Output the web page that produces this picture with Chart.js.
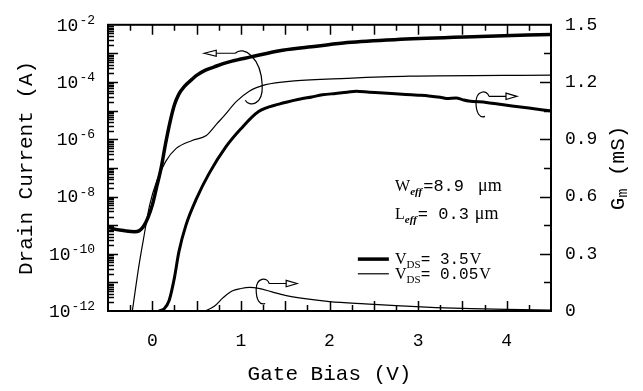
<!DOCTYPE html>
<html><head><meta charset="utf-8">
<script src="https://cdn.jsdelivr.net/npm/chart.js@4/dist/chart.umd.min.js"></script>
<style>html,body{margin:0;padding:0;background:#fff}canvas{display:block}</style>
</head><body>
<canvas id="c" width="643" height="391"></canvas>
<script>
// ---- data ----
const vgThickId = [-0.5,-0.45,-0.3,-0.2,-0.15,-0.1,-0.05,0.0,0.05,0.1,0.15,0.2,0.25,0.3,0.36,0.45,0.5,0.6,0.7,0.8,0.9,1.1,1.47,1.85,2.2,2.8,3.7,4.5];
const idVds35 = [8.9e-10,7.6e-10,6.3e-10,5.9e-10,6.3e-10,8.9e-10,1.8e-9,5.0e-9,2.2e-8,1.0e-7,7.1e-7,4.0e-6,1.6e-5,3.8e-5,6.9e-5,1.26e-4,1.7e-4,2.6e-4,3.4e-4,4.4e-4,5.4e-4,7.4e-4,1.29e-3,1.78e-3,2.4e-3,3.1e-3,3.9e-3,4.6e-3];
const vgThinId = [-0.23,-0.15,-0.1,-0.03,0.05,0.15,0.27,0.45,0.61,0.73,0.81,0.95,1.09,1.28,1.6,2.2,2.9,4.5];
const idVds005 = [7.9e-13,4.0e-11,3.2e-10,5.0e-9,3.5e-8,1.66e-7,4.8e-7,9.1e-7,1.35e-6,3.5e-6,6.6e-6,2.1e-5,4.7e-5,8.1e-5,1.1e-4,1.35e-4,1.6e-4,1.75e-4];
const vgThickGm = [0.08,0.13,0.19,0.25,0.3,0.38,0.5,0.64,0.83,1.0,1.2,1.43,1.66,1.8,1.92,2.07,2.2,2.3,2.45,2.56,2.7,2.86,3.0,3.12,3.25,3.32,3.43,3.5,3.57,3.77,3.9,4.06,4.25,4.49];
const gmVds35 = [0,0.01,0.055,0.175,0.31,0.45,0.59,0.72,0.86,0.955,1.045,1.084,1.11,1.122,1.133,1.14,1.146,1.152,1.147,1.144,1.14,1.135,1.131,1.127,1.12,1.114,1.116,1.108,1.101,1.093,1.085,1.075,1.064,1.049];
const vgThinGm = [0.6,0.7,0.8,0.9,1.0,1.1,1.2,1.35,1.5,1.7,2.0,2.4,2.8,3.2,3.6,4.0,4.5];
const gmVds005 = [0,0.025,0.07,0.105,0.118,0.124,0.119,0.1,0.082,0.066,0.049,0.037,0.027,0.018,0.012,0.008,0.005];

const xTickValues = [0,1,2,3,4];
const leftTickValues = [1e-12,1e-10,1e-8,1e-6,1e-4,1e-2];
const leftTickBases = ['10','10','10','10','10','10'];
const leftTickExponents = ['-12','-10','-8','-6','-4','-2'];
const rightTickValues = [0,0.3,0.6,0.9,1.2,1.5];
const rightTickLabels = ['0','0.3','0.6','0.9','1.2','1.5'];
const seriesLabels = ['3.5V','0.05V'];
const deviceLines = [['W','=8.9','\u03BCm'],['L','= 0.3','\u03BCm']];

const MONO = "'Liberation Mono', 'DejaVu Sans Mono', monospace";
const SERIF = "'Liberation Serif', 'DejaVu Serif', serif";
const pts = (xs, ys) => xs.map((x, i) => ({x, y: ys[i]}));

const deco = {
  id: 'deco',
  afterDatasetsDraw(chart) {
    const {ctx, chartArea: a, scales} = chart;
    const X = v => scales.x.getPixelForValue(v);
    const YL = v => scales.yL.getPixelForValue(v);
    const YR = v => scales.yR.getPixelForValue(v);
    ctx.save();
    ctx.strokeStyle = '#000'; ctx.fillStyle = '#000';
    // inward tick marks
    ctx.lineWidth = 1.5;
    ctx.beginPath();
    for (let k = 1; k < 20; k++) {
      const v = -0.5 + k * 0.25, px = Math.round(X(v)) + 0.5, len = (k % 2 === 0) ? 10 : 6;
      ctx.moveTo(px, a.bottom); ctx.lineTo(px, a.bottom - len);
      ctx.moveTo(px, a.top); ctx.lineTo(px, a.top + len);
    }
    for (let e = -12; e < -2; e++) {
      for (let m = 1; m <= 9; m++) {
        if (e === -12 && m === 1) continue;
        const py = Math.round(YL(m * Math.pow(10, e))) + 0.5, len = m === 1 ? 10 : 6;
        ctx.moveTo(a.left, py); ctx.lineTo(a.left + len, py);
      }
    }
    for (let k = 1; k < 10; k++) {
      const py = Math.round(YR(k * 0.15)) + 0.5, len = (k % 2 === 0) ? 11 : 7;
      ctx.moveTo(a.right, py); ctx.lineTo(a.right - len, py);
    }
    ctx.stroke();
    // frame
    ctx.lineWidth = 2;
    ctx.strokeRect(a.left, a.top, a.right - a.left, a.bottom - a.top);

    // left tick labels: 10 with raised exponent
    ctx.textAlign = 'right';
    leftTickValues.forEach((v, i) => {
      const py = YL(v), xr = a.left - 13;
      ctx.font = '13px ' + MONO; ctx.textBaseline = 'alphabetic';
      const ew = ctx.measureText(leftTickExponents[i]).width;
      ctx.fillText(leftTickExponents[i], xr, py - 1);
      ctx.font = '18px ' + MONO; ctx.textBaseline = 'middle';
      ctx.fillText(leftTickBases[i], xr - ew - 1, py + 1);
    });

    // curl arrows
    ctx.lineWidth = 1.2;
    const head = (tx, ty, dir, L, H) => {
      ctx.beginPath();
      ctx.moveTo(tx, ty); ctx.lineTo(tx - dir * L, ty - H); ctx.lineTo(tx - dir * L, ty + H); ctx.closePath();
      ctx.fillStyle = '#fff'; ctx.fill(); ctx.stroke(); ctx.fillStyle = '#000';
    };
    {
      const px = X(0.936), py = YR(1.351);
      ctx.beginPath();
      ctx.moveTo(px, py); ctx.lineTo(px - 19, py);
      ctx.moveTo(px, py);
      ctx.bezierCurveTo(px + 8, py - 8, px + 26, py + 4, px + 27, py + 32);
      ctx.bezierCurveTo(px + 28, py + 52, px + 14, py + 54, px + 10, py + 47);
      ctx.stroke();
      head(px - 31, py, -1, 12, 3);
    }
    for (const [vx, vg] of [[3.80, 1.125], [1.319, 0.144]]) {
      const px = X(vx), py = YR(vg);
      ctx.beginPath();
      ctx.moveTo(px, py); ctx.lineTo(px + 17, py);
      ctx.moveTo(px, py);
      ctx.bezierCurveTo(px - 2, py - 7, px - 13, py - 6, px - 13, py + 6);
      ctx.bezierCurveTo(px - 13, py + 17, px - 9, py + 22, px - 4, py + 20);
      ctx.stroke();
      head(px + 28, py, 1, 11, 3.2);
    }

    // device text
    ctx.textBaseline = 'alphabetic'; ctx.textAlign = 'left';
    const tx = X(2.74);
    const rich = (x, y, parts) => {
      for (const [t, f, dy, gap] of parts) {
        ctx.font = f; ctx.fillText(t, x, y + (dy || 0));
        x += ctx.measureText(t).width + (gap || 0);
      }
    };
    const baseW = YR(0.63), baseL = YR(0.483);
    rich(tx, baseW, [[deviceLines[0][0], '16px ' + SERIF], ['eff', 'italic bold 11px ' + SERIF, 4, 1], [deviceLines[0][1], '17px ' + MONO, 0, 14], [deviceLines[0][2], '18px ' + SERIF]]);
    rich(tx, baseL, [[deviceLines[1][0], '16px ' + SERIF], ['eff', 'italic bold 11px ' + SERIF, 4, 1], [deviceLines[1][1], '17px ' + MONO, 0, 6], [deviceLines[1][2], '18px ' + SERIF]]);
    // legend
    const lx0 = X(2.32), lx1 = X(2.67);
    const ly = [YR(0.272), YR(0.195)];
    const lw = [3.5, 1.2];
    for (let i = 0; i < 2; i++) {
      ctx.lineWidth = lw[i];
      ctx.beginPath(); ctx.moveTo(lx0, ly[i]); ctx.lineTo(lx1, ly[i]); ctx.stroke();
      rich(tx, ly[i] + 5, [['V', '16px ' + SERIF], ['DS', '11px ' + SERIF, 4], ['= ' + seriesLabels[i].replace('V', ''), '16px ' + MONO, 0, 1], ['V', '16px ' + SERIF]]);
    }

    // right axis title G_m (mS)
    ctx.save();
    ctx.translate(618, (a.top + a.bottom) / 2);
    ctx.rotate(-Math.PI / 2);
    ctx.textBaseline = 'middle';
    const parts = [['G', '21px ' + MONO, 0], ['m', '15px ' + MONO, 5], [' (mS)', '21px ' + MONO, 0]];
    let tot = 0;
    for (const p of parts) { ctx.font = p[1]; tot += ctx.measureText(p[0]).width; }
    let cx = -tot / 2;
    for (const p of parts) { ctx.font = p[1]; ctx.fillText(p[0], cx, p[2]); cx += ctx.measureText(p[0]).width; }
    ctx.restore();
    ctx.restore();
  }
};

const tickFont = {family: MONO, size: 18};
new Chart(document.getElementById('c'), {
  type: 'line',
  data: {
    datasets: [
      {label: 'ID, VDS=3.5V', data: pts(vgThickId, idVds35), yAxisID: 'yL', borderColor: '#000', borderWidth: 3.5, cubicInterpolationMode: 'monotone'},
      {label: 'ID, VDS=0.05V', data: pts(vgThinId, idVds005), yAxisID: 'yL', borderColor: '#000', borderWidth: 1.2, cubicInterpolationMode: 'monotone'},
      {label: 'Gm, VDS=3.5V', data: pts(vgThickGm, gmVds35), yAxisID: 'yR', borderColor: '#000', borderWidth: 3, cubicInterpolationMode: 'monotone'},
      {label: 'Gm, VDS=0.05V', data: pts(vgThinGm, gmVds005), yAxisID: 'yR', borderColor: '#000', borderWidth: 1.2, cubicInterpolationMode: 'monotone'}
    ]
  },
  options: {
    responsive: false, animation: false, devicePixelRatio: 1,
    layout: {padding: {top: 19, left: 0, right: 0, bottom: 0}},
    elements: {point: {radius: 0}, line: {borderCapStyle: 'round', borderJoinStyle: 'round'}},
    plugins: {legend: {display: false}, tooltip: {enabled: false}},
    scales: {
      x: {
        type: 'linear', position: 'bottom', min: -0.5, max: 4.5,
        grid: {display: false, drawTicks: false}, border: {display: false},
        afterBuildTicks: s => { s.ticks = xTickValues.map(v => ({value: v})); },
        afterFit: s => { s.height = 80; },
        ticks: {font: tickFont, color: '#000', padding: 19, maxRotation: 0, autoSkip: false, callback: v => String(v)},
        title: {display: true, text: 'Gate Bias (V)', color: '#000', font: {family: MONO, size: 21}, padding: {top: 0, bottom: 4}}
      },
      yL: {
        type: 'logarithmic', position: 'left', min: 1e-12, max: 1e-2,
        grid: {display: false, drawTicks: false}, border: {display: false},
        afterBuildTicks: s => { s.ticks = leftTickValues.map(v => ({value: v})); },
        afterFit: s => { s.width = 108; },
        ticks: {display: false},
        title: {display: true, text: 'Drain Current (A)', color: '#000', font: {family: MONO, size: 21}, padding: {top: 14, bottom: 0}}
      },
      yR: {
        type: 'linear', position: 'right', min: 0, max: 1.5,
        grid: {display: false, drawTicks: false}, border: {display: false},
        afterBuildTicks: s => { s.ticks = rightTickValues.map(v => ({value: v})); },
        afterFit: s => { s.width = 92; },
        ticks: {font: tickFont, color: '#000', padding: 14, autoSkip: false, callback: (v, i) => rightTickLabels[i]}
      }
    }
  },
  plugins: [deco]
});
</script>
</body></html>
